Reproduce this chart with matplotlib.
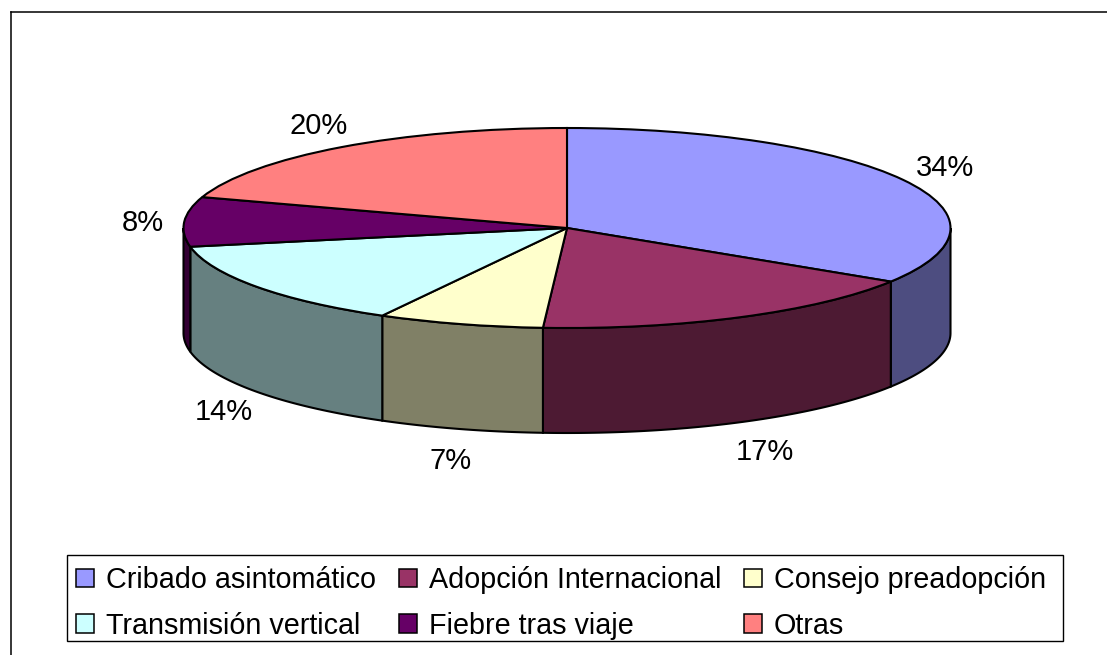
import matplotlib
matplotlib.use("Agg")
import matplotlib.pyplot as plt
import numpy as np
from matplotlib.lines import Line2D
from matplotlib.patches import Patch, Polygon, Rectangle

plt.rcParams["font.family"] = ["Liberation Sans", "DejaVu Sans"]

categories = ["Cribado asintomático", "Adopción Internacional", "Consejo preadopción",
              "Transmisión vertical", "Fiebre tras viaje", "Otras"]
values = [34, 17, 7, 14, 8, 20]
top_colors = ["#9999FF", "#993366", "#FFFFCC", "#CCFFFF", "#660066", "#FF8080"]
side_colors = ["#4D4D80", "#4D1A33", "#808066", "#668080", "#330033", "#804040"]

W, H = 1107, 655
cx, cy = 567, 228        # centre of top ellipse (pixels)
rx, ry = 383.5, 100      # ellipse radii (pixels)
depth = 105 / ry         # side height in y-units
edge_lw = 1.5

fig = plt.figure(figsize=(W / 100, H / 100), dpi=100)
ax = fig.add_axes([0, 0, 1, 1])

wedges, _ = ax.pie(values, radius=1, center=(0, 0), startangle=90, counterclock=False,
                   colors=top_colors, wedgeprops=dict(edgecolor="black", linewidth=edge_lw))
for w in wedges:
    w.set_zorder(3)

# visible side walls (front half of the cylinder)
for w, sc in zip(wedges, side_colors):
    for k in (-1, 0, 1, 2):
        lo = max(w.theta1 + 360 * k, 180)
        hi = min(w.theta2 + 360 * k, 360)
        if lo >= hi:
            continue
        t = np.radians(np.linspace(lo, hi, 80))
        top = np.column_stack([np.cos(t), np.sin(t)])
        bot = np.column_stack([np.cos(t), np.sin(t) - depth])[::-1]
        ax.add_patch(Polygon(np.vstack([top, bot]), closed=True, facecolor=sc,
                             edgecolor="black", linewidth=edge_lw, zorder=2))

# percentage labels, pushed outward from the rim
for w, v in zip(wedges, values):
    mid = np.radians((w.theta1 + w.theta2) / 2)
    lx = np.cos(mid) + (45 * np.cos(mid) + 3) / rx
    ly = np.sin(mid) + (30 * np.sin(mid) - 3) / ry
    if np.sin(mid) < 0:
        ly -= depth
    ax.text(lx, ly, f"{v:.0f}%", ha="center", va="center", fontsize=21, zorder=5)

ax.set_aspect("auto")
ax.set_xlim(-cx / rx, (W - cx) / rx)
ax.set_ylim((cy - H) / ry, cy / ry)
ax.axis("off")

# outer chart border (cropped on right and bottom)
fig.add_artist(Line2D([10.5 / W, 1], [1 - 11.5 / H] * 2, color="black", lw=1.1,
                      transform=fig.transFigure))
fig.add_artist(Line2D([10.5 / W] * 2, [0, 1 - 11.5 / H], color="black", lw=1.1,
                      transform=fig.transFigure))

# legend frame
fig.add_artist(Rectangle((66.5 / W, 1 - 640.5 / H), 996 / W, 86 / H, fill=False,
                         edgecolor="black", linewidth=1.0, transform=fig.transFigure))

order = [0, 3, 1, 4, 2, 5]
handles = [Patch(facecolor=top_colors[i], edgecolor="black", linewidth=1.1) for i in order]
labels = [categories[i] for i in order]
fig.legend(handles, labels, loc="center", mode="expand",
           bbox_to_anchor=(76 / W, 1 - 646 / H, 970 / W, 86 / H),
           ncol=3, fontsize=20.7, frameon=False, handlelength=0.62, handleheight=0.62,
           handletextpad=0.42, columnspacing=0.5, labelspacing=0.62, borderpad=0,
           borderaxespad=0)

fig.savefig("out.png", dpi=100)
